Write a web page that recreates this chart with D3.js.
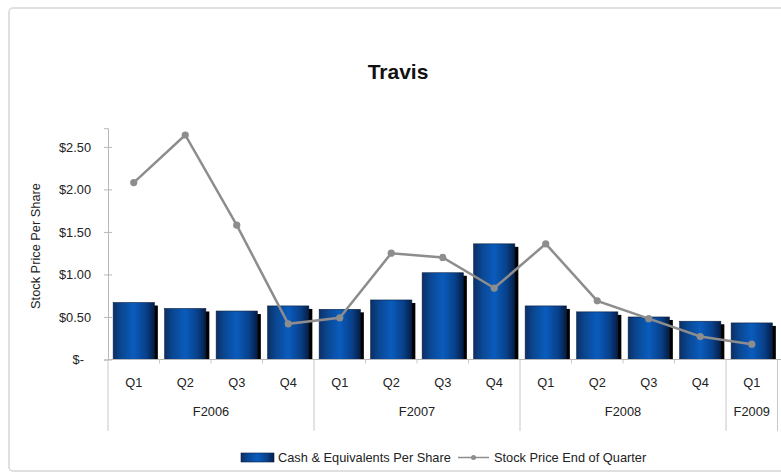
<!DOCTYPE html>
<html>
<head>
<meta charset="utf-8">
<script src="https://cdn.jsdelivr.net/npm/d3@7"></script>
<style>
    body { margin: 0; background: #fff; }
    text { font-family: "Liberation Sans", Arial, sans-serif; fill: #222; }
</style>
</head>
<body>
<div id="chart"></div>
<script>
// chart values
const quarters = ['Q1', 'Q2', 'Q3', 'Q4', 'Q1', 'Q2', 'Q3', 'Q4', 'Q1', 'Q2', 'Q3', 'Q4', 'Q1'];
const fiscalYears = ['F2006', 'F2006', 'F2006', 'F2006', 'F2007', 'F2007', 'F2007', 'F2007',
    'F2008', 'F2008', 'F2008', 'F2008', 'F2009'];
const cashPerShare = [0.67, 0.60, 0.57, 0.63, 0.59, 0.70, 1.02, 1.36, 0.63, 0.56, 0.50, 0.45, 0.43];
const stockPrice = [2.08, 2.64, 1.58, 0.42, 0.49, 1.25, 1.20, 0.84, 1.36, 0.69, 0.48, 0.27, 0.18];
const yTicks = [0, 0.5, 1, 1.5, 2, 2.5];
const seriesNames = ['Cash & Equivalents Per Share', 'Stock Price End of Quarter'];

const width = 781, height = 473;
const plotLeft = 108, plotRight = 777.5, plotTop = 128.2, plotBottom = 359.5;

const svg = d3.select('#chart')
    .append('svg')
    .attr('width', width)
    .attr('height', height);

const defs = svg.append('defs');
const grad = defs.append('linearGradient')
    .attr('id', 'barGrad')
    .attr('x1', '0%').attr('x2', '100%')
    .attr('y1', '0%').attr('y2', '0%');
grad.append('stop').attr('offset', '0%').attr('stop-color', '#0c2f66');
grad.append('stop').attr('offset', '20%').attr('stop-color', '#0a4792');
grad.append('stop').attr('offset', '50%').attr('stop-color', '#0a5cbd');
grad.append('stop').attr('offset', '80%').attr('stop-color', '#08408a');
grad.append('stop').attr('offset', '100%').attr('stop-color', '#051d44');

// outer frame
svg.append('rect')
    .attr('x', 9).attr('y', 8)
    .attr('width', 790).attr('height', 463)
    .attr('rx', 4)
    .attr('fill', 'none')
    .attr('stroke', '#d6d6d6')
    .attr('stroke-width', 1.5);

svg.append('text')
    .attr('x', 398).attr('y', 79)
    .attr('text-anchor', 'middle')
    .style('font-size', '21px')
    .style('font-weight', 'bold')
    .style('fill', '#111')
    .text('Travis');

const idx = quarters.map((d, i) => i);

const x = d3.scaleBand()
    .domain(idx)
    .range([plotLeft, plotRight])
    .paddingInner(0.2)
    .paddingOuter(0.1);

const y = d3.scaleLinear()
    .domain([0, 2.72])
    .range([plotBottom, plotTop]);

// y axis
const yAxis = svg.append('g')
    .attr('transform', `translate(${plotLeft},0)`)
    .call(d3.axisLeft(y)
        .tickValues(yTicks)
        .tickSize(4)
        .tickPadding(13)
        .tickFormat(d => d === 0 ? '$-' : d3.format('$.2f')(d)));
yAxis.select('.domain').attr('stroke', '#b8b8b8');
yAxis.selectAll('.tick line').attr('stroke', '#b8b8b8').attr('x2', 4).attr('x1', -4);
yAxis.selectAll('.tick text')
    .style('font-size', '12.8px')
    .style('fill', '#222');
yAxis.selectAll('.tick')
    .filter(d => d === 0)
    .select('text')
    .attr('dx', -7);

svg.append('text')
    .attr('transform', 'translate(40,246) rotate(-90)')
    .attr('text-anchor', 'middle')
    .style('font-size', '12.8px')
    .text('Stock Price Per Share');

// bars: shadow then body
const bars = svg.append('g');
bars.selectAll('rect.shadow')
    .data(cashPerShare)
    .enter()
    .append('rect')
    .attr('class', 'shadow')
    .attr('x', (d, i) => x(i) + 3.5)
    .attr('y', d => y(d) + 3)
    .attr('width', x.bandwidth())
    .attr('height', d => plotBottom - y(d) - 3)
    .attr('fill', '#000');
bars.selectAll('rect.bar')
    .data(cashPerShare)
    .enter()
    .append('rect')
    .attr('class', 'bar')
    .attr('x', (d, i) => x(i))
    .attr('y', d => y(d))
    .attr('width', x.bandwidth())
    .attr('height', d => plotBottom - y(d))
    .attr('fill', 'url(#barGrad)')
    .attr('stroke', '#0a1f40')
    .attr('stroke-width', 0.6);

// x axis line and category ticks
svg.append('line')
    .attr('x1', plotLeft).attr('x2', 781)
    .attr('y1', plotBottom).attr('y2', plotBottom)
    .attr('stroke', '#b8b8b8');

const step = x.step();
const bounds = d3.range(quarters.length + 1).map(i => plotLeft + i * step);
svg.append('g')
    .selectAll('line')
    .data(bounds)
    .enter()
    .append('line')
    .attr('x1', d => d).attr('x2', d => d)
    .attr('y1', plotBottom)
    .attr('y2', (d, i) => (i === 0 || i === quarters.length || fiscalYears[i] !== fiscalYears[i - 1]) ? 431 : plotBottom + 4)
    .attr('stroke', '#c8c8c8');

svg.append('g')
    .selectAll('text')
    .data(quarters)
    .enter()
    .append('text')
    .attr('x', (d, i) => x(i) + x.bandwidth() / 2)
    .attr('y', 387)
    .attr('text-anchor', 'middle')
    .style('font-size', '12.8px')
    .text(d => d);

const yearGroups = d3.groups(idx, i => fiscalYears[i]);
svg.append('g')
    .selectAll('text')
    .data(yearGroups)
    .enter()
    .append('text')
    .attr('x', d => (plotLeft + d[1][0] * step + plotLeft + (d[1][d[1].length - 1] + 1) * step) / 2)
    .attr('y', 416)
    .attr('text-anchor', 'middle')
    .style('font-size', '12.8px')
    .text(d => d[0]);

// stock price line
const line = d3.line()
    .x((d, i) => x(i) + x.bandwidth() / 2)
    .y(d => y(d));
svg.append('path')
    .datum(stockPrice)
    .attr('d', line)
    .attr('fill', 'none')
    .attr('stroke', '#8d8d8d')
    .attr('stroke-width', 2.5);
svg.append('g')
    .selectAll('circle')
    .data(stockPrice)
    .enter()
    .append('circle')
    .attr('cx', (d, i) => x(i) + x.bandwidth() / 2)
    .attr('cy', d => y(d))
    .attr('r', 3.6)
    .attr('fill', '#8d8d8d');

// legend
const legend = svg.append('g');
legend.append('rect')
    .attr('x', 241).attr('y', 453)
    .attr('width', 33).attr('height', 9)
    .attr('fill', 'url(#barGrad)')
    .attr('stroke', '#0a1f40')
    .attr('stroke-width', 0.6);
legend.append('text')
    .attr('x', 278).attr('y', 462)
    .style('font-size', '12.8px')
    .text(seriesNames[0]);
legend.append('line')
    .attr('x1', 458).attr('x2', 489)
    .attr('y1', 457.5).attr('y2', 457.5)
    .attr('stroke', '#8d8d8d')
    .attr('stroke-width', 1.5);
legend.append('circle')
    .attr('cx', 473.5).attr('cy', 457.5)
    .attr('r', 2.5)
    .attr('fill', '#8d8d8d');
legend.append('text')
    .attr('x', 494).attr('y', 462)
    .style('font-size', '12.8px')
    .text(seriesNames[1]);
</script>
</body>
</html>
